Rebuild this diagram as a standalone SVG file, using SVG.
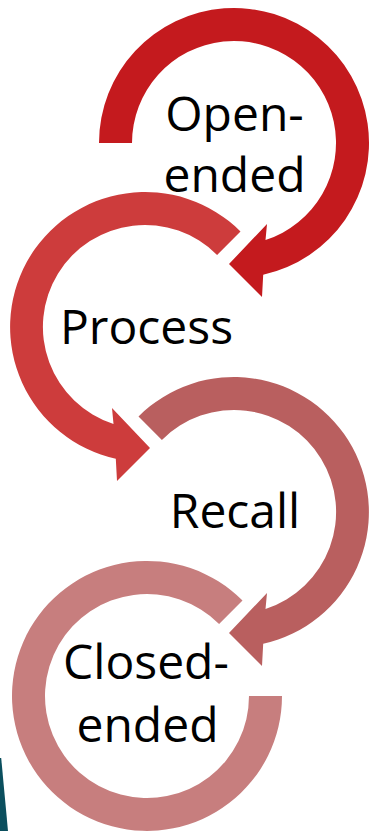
<svg xmlns="http://www.w3.org/2000/svg" width="369" height="831" viewBox="0 0 369 831">
  <style>
    .lbl { font-family: "Open Sans", "Liberation Sans", sans-serif; font-size: 48px; fill: #000000; text-anchor: middle; }
    .c1 { fill: #C41A1E; }
    .c2 { fill: #CD3C3C; }
    .c3 { fill: #B95F5F; }
    .c4 { fill: #C77E7E; }
  </style>
  <defs>
    <path id="arrowFromLeft" d="M -135 0 A 135 135 0 1 1 29.2 131.8 L 28 154 L -5 121 L 33 81 L 31.5 97 A 102 102 0 1 0 -102 0 Z"/>
    <path id="arrowFromUpperLeft" d="M -95.5 -95.5 A 135 135 0 1 1 29.2 131.8 L 28 154 L -5 121 L 33 81 L 31.5 97 A 102 102 0 1 0 -72.1 -72.1 Z"/>
  </defs>
  <rect width="369" height="831" fill="#ffffff"/>
  <polygon points="0,758 1.2,758 8,831 0,831" fill="#0B4F5E"/>

  <g id="node-closed-ended">
    <path class="c4" d="M 242.5 600.5 A 135 135 0 1 0 282 696 L 249 696 A 102 102 0 1 1 219.1 623.9 Z"/>
    <text class="lbl" x="146" y="679">Closed-</text>
    <text class="lbl" x="147.5" y="742">ended</text>
  </g>

  <g id="node-recall">
    <use href="#arrowFromUpperLeft" class="c3" transform="translate(234,512)"/>
    <text class="lbl" x="235" y="528">Recall</text>
  </g>

  <g id="node-process">
    <use href="#arrowFromUpperLeft" class="c2" transform="translate(145,327) scale(-1,1)"/>
    <text class="lbl" x="146.5" y="344">Process</text>
  </g>

  <g id="node-open-ended">
    <use href="#arrowFromLeft" class="c1" transform="translate(234,143)"/>
    <text class="lbl" x="234.5" y="131">Open-</text>
    <text class="lbl" x="234.5" y="192">ended</text>
  </g>
</svg>
